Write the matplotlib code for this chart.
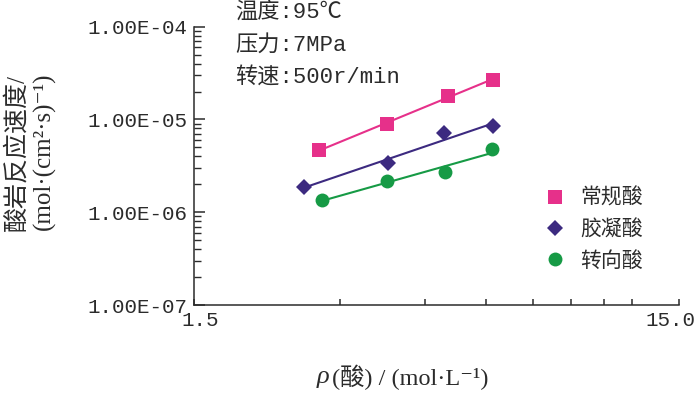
import numpy as np
import matplotlib
matplotlib.use('Agg')
import matplotlib.pyplot as plt
from matplotlib.ticker import FixedLocator, NullFormatter, LogLocator
import matplotlib.transforms as mtransforms

# ---------------- data ----------------
series_names = ['常规酸', '胶凝酸', '转向酸']
x_conventional = [2.71, 3.75, 5.02, 6.19]
y_conventional = [4.65e-6, 8.9e-6, 1.81e-5, 2.67e-5]
x_gelled = [2.53, 3.76, 4.92, 6.21]
y_gelled = [1.86e-6, 3.40e-6, 7.06e-6, 8.41e-6]
x_diverting = [2.75, 3.75, 4.94, 6.17]
y_diverting = [1.35e-6, 2.15e-6, 2.74e-6, 4.75e-6]

x_major_ticks = [1.5, 15.0]
x_major_labels = ['1.5', '15.0']
x_minor_ticks = [3.0, 4.5, 6.0, 7.5, 9.0, 10.5, 12.0]
y_ticks = [1e-7, 1e-6, 1e-5, 1e-4]
y_tick_labels = ['1.00E-07', '1.00E-06', '1.00E-05', '1.00E-04']

conditions = ['温度:95℃', '压力:7MPa', '转速:500r/min']

colors = ['#E6308A', '#3C2A80', '#169A45']
markers = ['s', 'D', 'o']
msizes = [10, 8, 10]

TXT = '#2b2b2b'
MONO = ['Liberation Mono', 'Noto Sans CJK SC', 'DejaVu Sans']
MIX = ['Liberation Serif', 'Noto Sans CJK SC', 'DejaVu Sans']

W, H = 700, 399
fig = plt.figure(figsize=(W / 100, H / 100), dpi=100)
fig.patch.set_facecolor('white')

L, R, T, B = 194, 679, 26.7, 305
ax = fig.add_axes([L / W, 1 - B / H, (R - L) / W, (B - T) / H])
ax.set_xscale('log')
ax.set_yscale('log')
ax.set_xlim(1.5, 15.0)
ax.set_ylim(1e-7, 1e-4)

for s in ['top', 'right']:
    ax.spines[s].set_visible(False)
for s in ['left', 'bottom']:
    ax.spines[s].set_color(TXT)
    ax.spines[s].set_linewidth(1.1)

data = [(x_conventional, y_conventional), (x_gelled, y_gelled), (x_diverting, y_diverting)]
handles = []
for (xs, ys), c, m, ms, name in zip(data, colors, markers, msizes, series_names):
    xs = np.asarray(xs)
    ys = np.asarray(ys)
    k, b = np.polyfit(np.log10(xs), np.log10(ys), 1)
    xf = np.array([xs.min(), xs.max()])
    yf = 10 ** (k * np.log10(xf) + b)
    ax.plot(xf, yf, color=c, lw=1.5, zorder=2)
    h, = ax.plot(xs, ys, linestyle='none', marker=m, ms=ms, color=c,
                 markeredgewidth=0, zorder=3, label=name)
    handles.append(h)

# ticks
ax.xaxis.set_major_locator(FixedLocator(x_major_ticks))
ax.set_xticklabels(x_major_labels)
ax.xaxis.set_minor_locator(FixedLocator(x_minor_ticks))
ax.xaxis.set_minor_formatter(NullFormatter())
ax.yaxis.set_major_locator(FixedLocator(y_ticks))
ax.set_yticklabels(y_tick_labels)
ax.yaxis.set_minor_locator(LogLocator(base=10, subs=np.arange(2, 10)))
ax.yaxis.set_minor_formatter(NullFormatter())

ax.tick_params(axis='x', which='both', direction='in', length=4, width=1.1,
               color=TXT, pad=4)
ax.tick_params(axis='y', which='major', direction='in', length=8, width=1.1,
               color=TXT, pad=5)
ax.tick_params(axis='y', which='minor', direction='in', length=5, width=1.0,
               color=TXT)
for lab in ax.get_xticklabels() + ax.get_yticklabels():
    lab.set_family(MONO)
    lab.set_fontsize(15)
    lab.set_color(TXT)

xl = ax.get_xticklabels()
xl[0].set_transform(xl[0].get_transform() +
                    mtransforms.ScaledTranslation(6 / 100, 0, fig.dpi_scale_trans))
xl[1].set_transform(xl[1].get_transform() +
                    mtransforms.ScaledTranslation(-9 / 100, 0, fig.dpi_scale_trans))

# legend
leg = ax.legend(handles=handles, loc='upper left',
                bbox_to_anchor=(545 / W, 1 - 187 / H), bbox_transform=fig.transFigure,
                frameon=False, handlelength=1.0, handletextpad=0.7,
                labelspacing=0.45, borderpad=0, borderaxespad=0,
                prop={'family': ['Noto Sans CJK SC'], 'size': 15})
for t in leg.get_texts():
    t.set_color(TXT)

# condition annotations
for i, s in enumerate(conditions):
    fig.text(235 / W, 1 - (13 + 32 * i) / H, s, family=MONO, fontsize=16,
             color=TXT, ha='left', va='center')

# axis labels
fig.text(16 / W, 1 - 153 / H, '酸岩反应速度/', rotation=90, family=MIX,
         fontsize=18, color=TXT, ha='center', va='center')
fig.text(44 / W, 1 - 151 / H, '(mol·(cm²·s)⁻¹)', rotation=90, family=MIX,
         fontsize=18, color=TXT, ha='center', va='center')

fig.text(317 / W, 1 - 377 / H, 'ρ', family=['Liberation Serif'], style='italic',
         fontsize=19, color=TXT, ha='left', va='center')
fig.text(332 / W, 1 - 377 / H, '(酸) / (mol·L⁻¹)', family=MIX,
         fontsize=17.5, color=TXT, ha='left', va='center')

fig.savefig('out.png', dpi=100, facecolor='white')
